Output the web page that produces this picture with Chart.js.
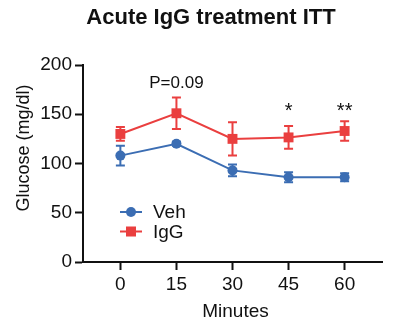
<!DOCTYPE html>
<html><head><meta charset="utf-8">
<script src="https://cdn.jsdelivr.net/npm/chart.js@4/dist/chart.umd.min.js"></script>
<style>html,body{margin:0;padding:0;background:#fff}#wrap{width:393px;height:330px}</style>
</head><body><div id="wrap"><canvas id="c" width="393" height="330"></canvas></div>
<script>
const minutes = [0, 15, 30, 45, 60];
const vehMean = [108, 120, 93, 86, 86];
const vehErr = [10, 2, 6, 5, 4];
const iggMean = [130, 151, 125, 126.5, 133];
const iggErr = [7, 16, 17, 11.5, 10];
const yTicks = [0, 50, 100, 150, 200];
const annotText = ['P=0.09', '*', '**'];
const annotX = [15, 45, 60];
const annotY = [181, 153, 153];

const FONT = '"Liberation Sans", Arial, sans-serif';
const BLUE = '#3b6db3';
const RED = '#ea3f3f';

const errorBars = {
  id: 'errorBars',
  beforeDatasetsDraw(chart) {
    const {ctx, scales: {x, y}} = chart;
    chart.data.datasets.forEach(ds => {
      ctx.save();
      ctx.strokeStyle = ds.borderColor;
      ctx.lineWidth = 2;
      ds.data.forEach((p, i) => {
        const e = ds.errors[i];
        const px = x.getPixelForValue(p.x);
        const yt = y.getPixelForValue(p.y + e);
        const yb = y.getPixelForValue(p.y - e);
        ctx.beginPath();
        ctx.moveTo(px, yt); ctx.lineTo(px, yb);
        ctx.moveTo(px - 4.5, yt); ctx.lineTo(px + 4.5, yt);
        ctx.moveTo(px - 4.5, yb); ctx.lineTo(px + 4.5, yb);
        ctx.stroke();
      });
      ctx.restore();
    });
  }
};

const texts = {
  id: 'texts',
  afterDraw(chart) {
    const {ctx, scales: {x, y}, chartArea} = chart;
    ctx.save();
    ctx.fillStyle = '#111';
    ctx.textAlign = 'center';
    ctx.textBaseline = 'middle';
    ctx.font = 'bold 22px ' + FONT;
    ctx.fillText('Acute IgG treatment ITT', 211, 18);
    ctx.font = '19px ' + FONT;
    ctx.fillText('Minutes', (chartArea.left + chartArea.right) / 2 + 3, 312);
    ctx.save();
    ctx.translate(24, 148);
    ctx.rotate(-Math.PI / 2);
    ctx.font = '18px ' + FONT;
    ctx.fillText('Glucose (mg/dl)', 0, 0);
    ctx.restore();
    annotText.forEach((t, i) => {
      ctx.font = (t.startsWith('*') ? '20px ' : '17px ') + FONT;
      ctx.fillText(t, x.getPixelForValue(annotX[i]), y.getPixelForValue(annotY[i]));
    });
    // legend
    chart.data.datasets.forEach((ds, i) => {
      const ly = 212 + i * 19.5;
      ctx.strokeStyle = ds.borderColor;
      ctx.fillStyle = ds.borderColor;
      ctx.lineWidth = 2;
      ctx.beginPath(); ctx.moveTo(120, ly); ctx.lineTo(142, ly); ctx.stroke();
      if (ds.pointStyle === 'rect') { ctx.fillRect(126, ly - 5, 10, 10); }
      else { ctx.beginPath(); ctx.arc(131, ly, 5, 0, Math.PI * 2); ctx.fill(); }
      ctx.fillStyle = '#111';
      ctx.textAlign = 'left';
      ctx.font = '19px ' + FONT;
      ctx.fillText(ds.label, 153, ly + 1);
    });
    ctx.restore();
  }
};

const toXY = (xs, ys) => xs.map((v, i) => ({x: v, y: ys[i]}));

new Chart(document.getElementById('c'), {
  type: 'line',
  data: {
    datasets: [
      {label: 'Veh', data: toXY(minutes, vehMean), errors: vehErr, borderColor: BLUE, backgroundColor: BLUE,
       borderWidth: 2, pointStyle: 'circle', pointRadius: 5, pointHoverRadius: 5, pointBorderWidth: 0},
      {label: 'IgG', data: toXY(minutes, iggMean), errors: iggErr, borderColor: RED, backgroundColor: RED,
       borderWidth: 2, pointStyle: 'rect', pointRadius: 7, pointHoverRadius: 7, pointBorderWidth: 0}
    ]
  },
  options: {
    responsive: false,
    animation: false,
    events: [],
    layout: {padding: {top: 65, left: 0, right: 11, bottom: 0}},
    plugins: {legend: {display: false}, tooltip: {enabled: false}},
    scales: {
      x: {
        type: 'linear', min: -10, max: 70,
        afterBuildTicks(s) { s.ticks = minutes.map(v => ({value: v})); },
        afterFit(s) { s.height = 68; },
        grid: {display: true, drawOnChartArea: false, drawTicks: true, tickLength: 8, tickWidth: 2, tickColor: '#111'},
        border: {display: true, width: 2, color: '#111'},
        ticks: {color: '#111', font: {size: 19, family: FONT}, padding: 3, maxRotation: 0}
      },
      y: {
        min: 0, max: 200,
        afterBuildTicks(s) { s.ticks = yTicks.map(v => ({value: v})); },
        afterFit(s) { s.width = 83; },
        grid: {display: true, drawOnChartArea: false, drawTicks: true, tickLength: 8, tickWidth: 2, tickColor: '#111'},
        border: {display: true, width: 2, color: '#111'},
        ticks: {color: '#111', font: {size: 19, family: FONT}, padding: 3}
      }
    }
  },
  plugins: [errorBars, texts]
});
</script>
</body></html>
